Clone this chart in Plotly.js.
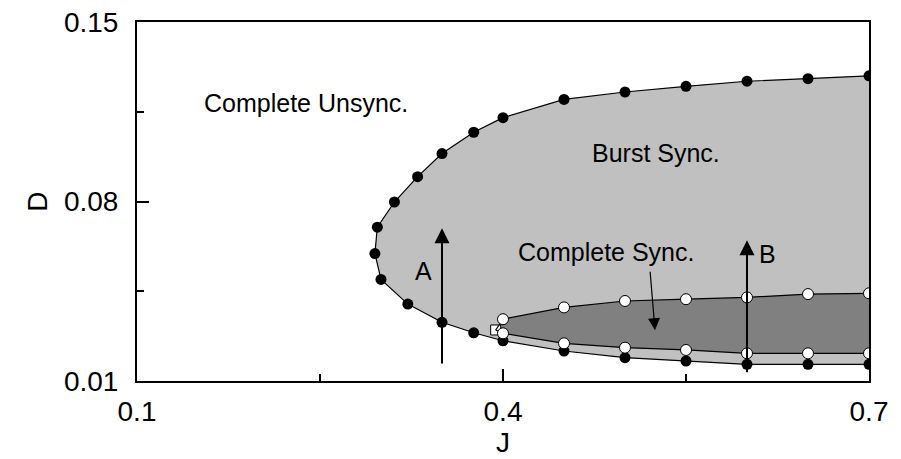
<!DOCTYPE html>
<html>
<head>
<meta charset="utf-8">
<script src="https://cdn.plot.ly/plotly-3.0.1.min.js"></script>
<style>
  body { margin: 0; background: #fff; }
  #myDiv { width: 901px; height: 459px; }
</style>
</head>
<body>
<div id="myDiv"></div>
<script>
// outer boundary (black dots): upper branch from J=0.7 round to the nose, then lower branch
var jUpper = [0.7, 0.65, 0.6, 0.55, 0.5, 0.45, 0.4, 0.376, 0.350, 0.330, 0.311, 0.297, 0.295];
var dUpper = [0.1290, 0.1279, 0.1269, 0.1249, 0.1227, 0.1198, 0.1127, 0.1070, 0.0987, 0.0897, 0.0798, 0.0700, 0.0597];
var jLower = [0.300, 0.322, 0.350, 0.376, 0.4, 0.45, 0.5, 0.55, 0.6, 0.65, 0.7];
var dLower = [0.0496, 0.0400, 0.0329, 0.0288, 0.0257, 0.0217, 0.0191, 0.0178, 0.0165, 0.0165, 0.0165];

// complete sync region (white dots)
var jSync = [0.4, 0.45, 0.5, 0.55, 0.6, 0.65, 0.7];
var dSyncUpper = [0.0341, 0.0387, 0.0412, 0.0419, 0.0426, 0.0439, 0.0442];
var dSyncLower = [0.0286, 0.0247, 0.0230, 0.0221, 0.0208, 0.0208, 0.0208];
var jTip = [0.394];
var dTip = [0.0299];

var xTicks = [0.1, 0.4, 0.7];
var xTickText = ['0.1', '0.4', '0.7'];
var yTicks = [0.01, 0.08, 0.15];
var yTickText = ['0.01', '0.08', '0.15'];

var FONT = 'Liberation Sans, Arial, sans-serif';

var outer = {
    x: jUpper.concat(jLower),
    y: dUpper.concat(dLower),
    mode: 'lines+markers',
    fill: 'toself',
    fillcolor: 'rgb(192, 192, 192)',
    line: { color: 'black', width: 1.2 },
    marker: { color: 'black', size: 11 },
    hoverinfo: 'skip'
};

var syncX = jTip.concat(jSync, jSync.slice().reverse());
var syncY = dTip.concat(dSyncUpper, dSyncLower.slice().reverse());
var inner = {
    x: syncX,
    y: syncY,
    mode: 'lines',
    fill: 'toself',
    fillcolor: 'rgb(128, 128, 128)',
    line: { width: 0 },
    hoverinfo: 'skip'
};

var tip = {
    x: jTip,
    y: dTip,
    mode: 'markers',
    marker: { symbol: 'square', color: 'white', size: 10, line: { color: 'black', width: 1 } },
    hoverinfo: 'skip'
};

var whiteMarker = { color: 'white', size: 11, line: { color: 'black', width: 1 } };
var syncTop = {
    x: jTip.concat(jSync),
    y: dTip.concat(dSyncUpper),
    mode: 'lines',
    line: { color: 'black', width: 1.2 },
    hoverinfo: 'skip'
};
var syncBottom = {
    x: jTip.concat(jSync),
    y: dTip.concat(dSyncLower),
    mode: 'lines',
    line: { color: 'black', width: 1.2 },
    hoverinfo: 'skip'
};
var syncDots = {
    x: jSync.concat(jSync),
    y: dSyncUpper.concat(dSyncLower),
    mode: 'markers',
    marker: whiteMarker,
    hoverinfo: 'skip'
};

var data = [outer, inner, tip, syncTop, syncBottom, syncDots];

function label(txt, x, y) {
    return { text: txt, x: x, y: y, xref: 'x', yref: 'y', showarrow: false,
             font: { family: FONT, size: 25, color: 'black' } };
}
function arrow(x, y, ax, ay, w, size) {
    return { text: '', x: x, y: y, ax: ax, ay: ay, xref: 'x', yref: 'y', axref: 'x', ayref: 'y',
             showarrow: true, arrowhead: 2, arrowsize: size, arrowwidth: w, arrowcolor: 'black' };
}

var layout = {
    width: 901,
    height: 459,
    margin: { l: 137, r: 32, t: 22, b: 78 },
    paper_bgcolor: 'white',
    plot_bgcolor: 'white',
    showlegend: false,
    font: { family: FONT, size: 28, color: 'black' },
    xaxis: {
        range: [0.1, 0.7],
        tickmode: 'array',
        tickvals: xTicks,
        ticktext: xTickText,
        ticks: 'inside',
        ticklen: 12,
        tickwidth: 2,
        tickcolor: 'black',
        ticklabelstandoff: 4,
        minor: { tick0: 0.1, dtick: 0.15, ticks: 'inside', ticklen: 7, tickwidth: 2, tickcolor: 'black' },
        showline: true,
        linecolor: 'black',
        linewidth: 2,
        mirror: true,
        showgrid: false,
        zeroline: false,
        title: { text: 'J', font: { family: FONT, size: 28 }, standoff: 2 }
    },
    yaxis: {
        range: [0.01, 0.15],
        tickmode: 'array',
        tickvals: yTicks,
        ticktext: yTickText,
        ticks: 'inside',
        ticklen: 12,
        tickwidth: 2,
        tickcolor: 'black',
        ticklabelstandoff: 11,
        minor: { tick0: 0.01, dtick: 0.035, ticks: 'inside', ticklen: 7, tickwidth: 2, tickcolor: 'black' },
        showline: true,
        linecolor: 'black',
        linewidth: 2,
        mirror: true,
        showgrid: false,
        zeroline: false,
        title: { text: 'D', font: { family: FONT, size: 28 }, standoff: 8 }
    },
    annotations: [
        label('Complete Unsync.', 0.2385, 0.1185),
        label('Burst Sync.', 0.5254, 0.0988),
        label('Complete Sync.', 0.4844, 0.0604),
        label('A', 0.3348, 0.0529),
        label('B', 0.6172, 0.0595),
        arrow(0.35, 0.0696, 0.35, 0.0162, 2, 1.5),
        arrow(0.6, 0.0649, 0.6, 0.0128, 2, 1.5),
        arrow(0.5246, 0.0298, 0.5205, 0.0532, 1.2, 2)
    ]
};

Plotly.newPlot('myDiv', data, layout, { displayModeBar: false, staticPlot: true });
</script>
</body>
</html>
